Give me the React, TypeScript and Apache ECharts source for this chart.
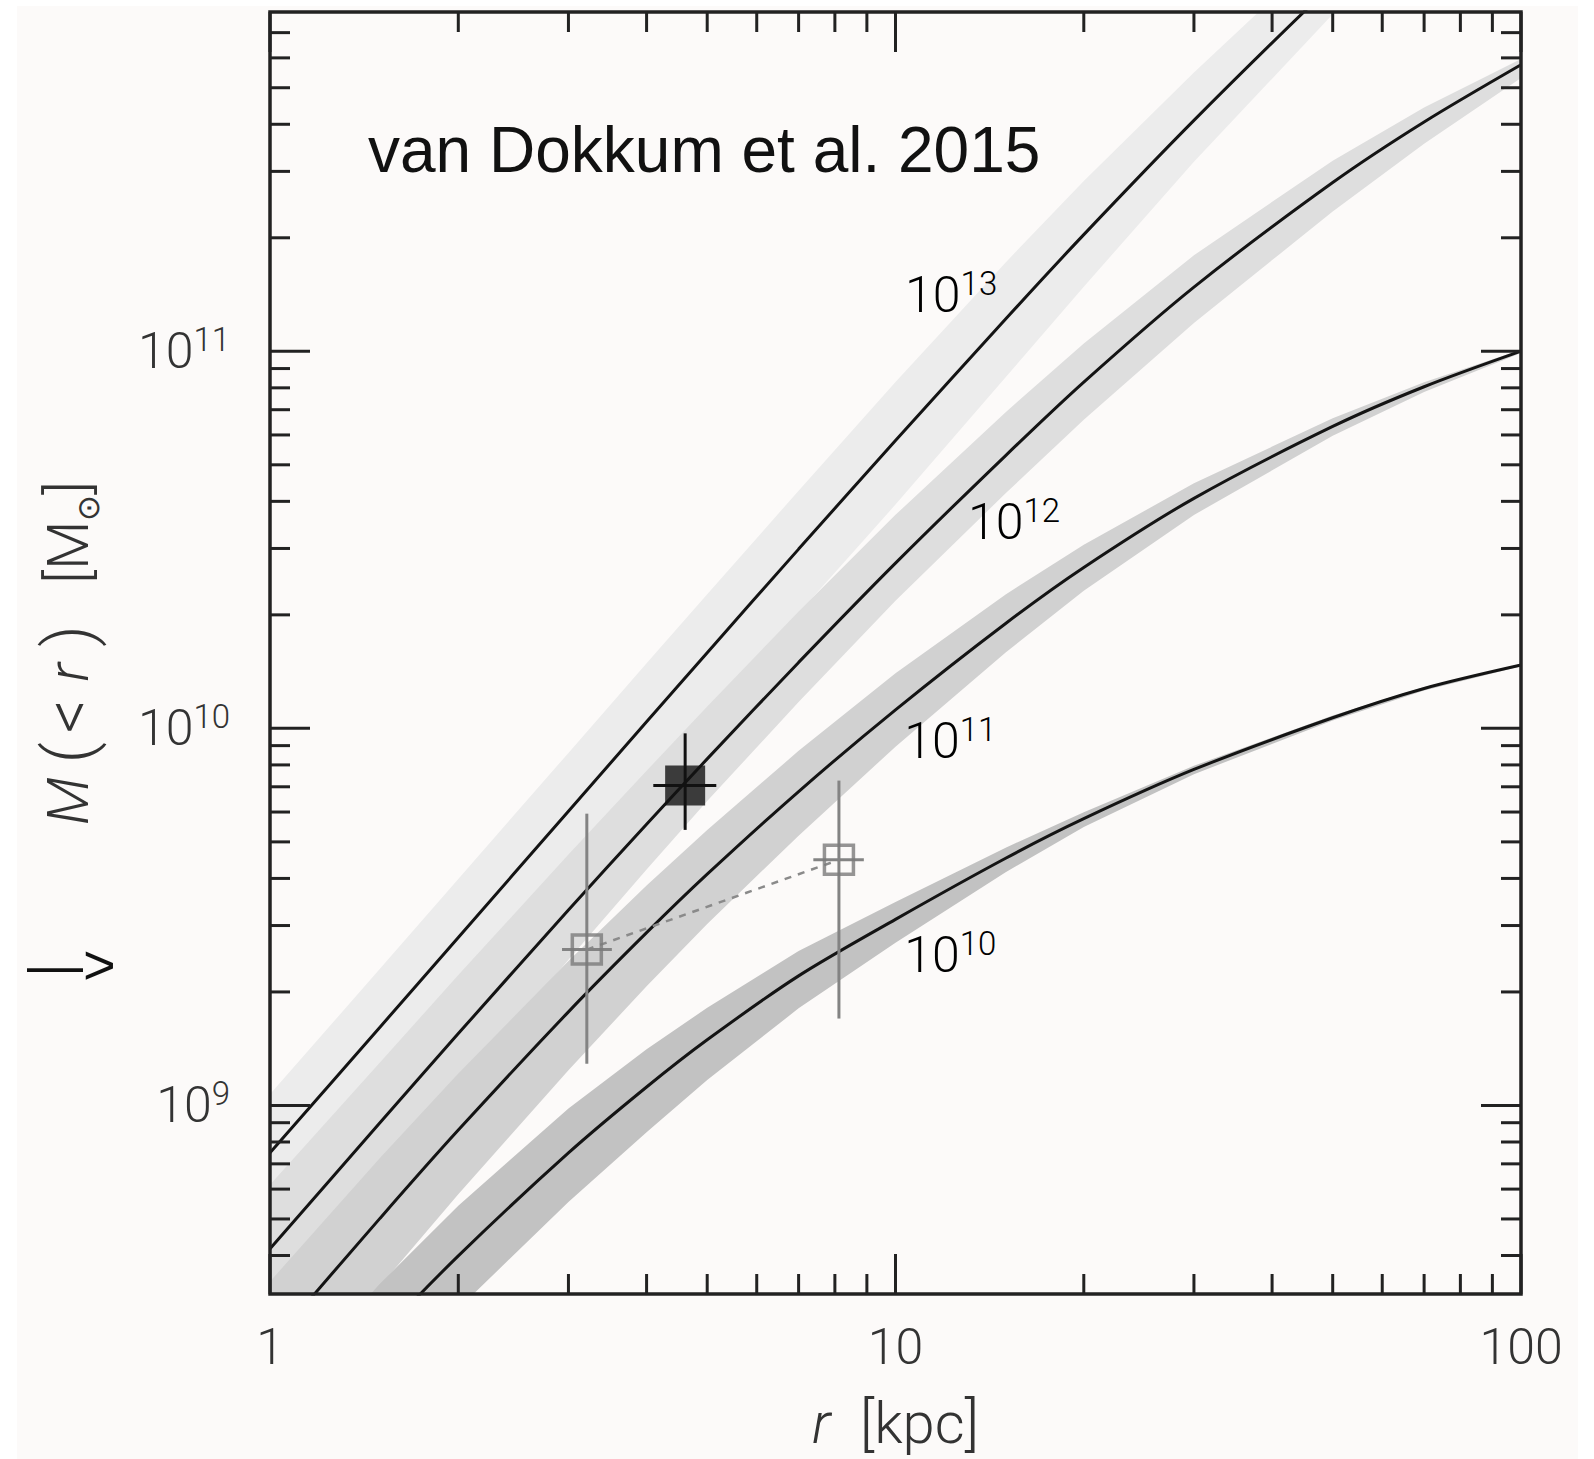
import React, { useEffect, useRef } from 'react';
import * as echarts from 'echarts';

// ---------------- data ----------------
const radii = [1, 1.5, 2, 3, 4, 5, 7, 10, 15, 20, 30, 50, 70, 100];

const halo13 = [7.49e8, 1.615e9, 2.79e9, 6.03e9, 1.041e10, 1.588e10, 2.988e10, 5.8e10, 1.218e11, 2.039e11, 4.096e11, 9.42e11, 1.587e12, 2.69e12];
const halo13Hi = [1.07e9, 2.308e9, 3.986e9, 8.61e9, 1.488e10, 2.268e10, 4.27e10, 8.29e10, 1.721e11, 2.828e11, 5.488e11, 1.213e12, 1.998e12, 3.348e12];
const halo13Lo = [5.064e8, 1.092e9, 1.886e9, 4.075e9, 7.04e9, 1.073e10, 2.02e10, 3.922e10, 8.53e10, 1.484e11, 3.18e11, 7.834e11, 1.351e12, 2.317e12];

const halo12 = [4.169e8, 9.01e8, 1.551e9, 3.298e9, 5.568e9, 8.3e9, 1.496e10, 2.743e10, 5.291e10, 8.286e10, 1.48e11, 2.803e11, 4.057e11, 5.754e11];
const halo12Hi = [6.166e8, 1.302e9, 2.217e9, 4.627e9, 7.72e9, 1.143e10, 2.041e10, 3.684e10, 6.895e10, 1.048e11, 1.799e11, 3.203e11, 4.43e11, 5.957e11];
const halo12Lo = [2.818e8, 6.232e8, 1.098e9, 2.433e9, 4.224e9, 6.415e9, 1.175e10, 2.179e10, 4.203e10, 6.58e10, 1.189e11, 2.348e11, 3.55e11, 5.309e11];

const halo11 = [2.307e8, 5.025e8, 8.603e8, 1.771e9, 2.872e9, 4.104e9, 6.8e9, 1.12e10, 1.898e10, 2.672e10, 4.074e10, 6.32e10, 8.054e10, 1.001e11];
const halo11Hi = [3.412e8, 7.262e8, 1.216e9, 2.416e9, 3.83e9, 5.374e9, 8.718e9, 1.401e10, 2.266e10, 3.068e10, 4.467e10, 6.649e10, 8.279e10, 1.01e11];
const halo11Lo = [1.489e8, 3.32e8, 5.817e8, 1.24e9, 2.071e9, 3.029e9, 5.194e9, 8.94e9, 1.589e10, 2.317e10, 3.681e10, 5.968e10, 7.798e10, 9.897e10];

const halo10 = [1.143e8, 2.44e8, 3.99e8, 7.482e8, 1.119e9, 1.493e9, 2.206e9, 3.115e9, 4.524e9, 5.761e9, 7.78e9, 1.067e10, 1.276e10, 1.472e10];
const halo10Hi = [1.615e8, 3.37e8, 5.42e8, 9.817e8, 1.409e9, 1.816e9, 2.568e9, 3.464e9, 4.826e9, 5.991e9, 7.958e9, 1.082e10, 1.288e10, 1.482e10];
const halo10Lo = [8.09e7, 1.747e8, 2.891e8, 5.546e8, 8.492e8, 1.169e9, 1.809e9, 2.701e9, 4.154e9, 5.476e9, 7.56e9, 1.05e10, 1.261e10, 1.461e10];

// curve labels (halo mass exponent) and their anchor positions
const curveLabelExp = [13, 12, 11, 10];
const curveLabelR = [10.36, 13.06, 10.33, 10.33];
const curveLabelM = [1.41e11, 3.53e10, 9.27e9, 2.51e9];

// measurements
const openR = [3.21, 8.12];
const openM = [2.59e9, 4.48e9];
const openRLo = [2.93, 7.39];
const openRHi = [3.52, 8.9];
const openMLo = [1.29e9, 1.7e9];
const openMHi = [5.94e9, 7.27e9];

const filledR = [4.61];
const filledM = [7.05e9];
const filledRLo = [4.1];
const filledRHi = [5.17];
const filledMLo = [5.38e9];
const filledMHi = [9.7e9];

// axes
const xMin = 1;
const xMax = 100;
const yMin = 3.162e8;
const yMax = 7.94e11;
const xMajorTicks = [1, 10, 100];
const xMinorTicks = [2, 3, 4, 5, 6, 7, 8, 9, 20, 30, 40, 50, 60, 70, 80, 90];
const yMajorTicks = [1e9, 1e10, 1e11];
const yMinorTicks = [
  4e8, 5e8, 6e8, 7e8, 8e8, 9e8,
  2e9, 3e9, 4e9, 5e9, 6e9, 7e9, 8e9, 9e9,
  2e10, 3e10, 4e10, 5e10, 6e10, 7e10, 8e10, 9e10,
  2e11, 3e11, 4e11, 5e11, 6e11, 7e11,
];

const FONT = 'Roboto, "Liberation Sans", Arial, sans-serif';
const LABEL_COLOR = '#333333';

export default function App() {
  const ref = useRef<HTMLDivElement>(null);

  useEffect(() => {
    if (!ref.current) return;
    const chart = echarts.init(ref.current, null, { renderer: 'svg' });

    const labelRich: any = {
      b: { fontSize: 50, fontFamily: FONT, fontWeight: 300, color: LABEL_COLOR, lineHeight: 56 },
      s: { fontSize: 33, fontFamily: FONT, fontWeight: 300, color: LABEL_COLOR, lineHeight: 33, verticalAlign: 'top' },
    };

    const band = (hi: number[], lo: number[], color: string, z: number) => ({
      type: 'custom',
      coordinateSystem: 'cartesian2d',
      clip: true,
      silent: true,
      z,
      encode: { x: 0, y: 1 },
      data: radii.map((r, i) => [r, hi[i]]),
      renderItem: (params: any, api: any) => {
        if (params.dataIndex !== 0) return null;
        const pts: number[][] = [];
        for (let i = 0; i < radii.length; i++) pts.push(api.coord([radii[i], hi[i]]));
        for (let i = radii.length - 1; i >= 0; i--) pts.push(api.coord([radii[i], lo[i]]));
        return { type: 'polygon', shape: { points: pts }, style: { fill: color } };
      },
    });

    const curve = (vals: number[]) => ({
      type: 'line',
      data: radii.map((r, i) => [r, vals[i]]),
      showSymbol: false,
      symbol: 'none',
      smooth: 0.3,
      clip: true,
      silent: true,
      z: 3,
      lineStyle: { color: '#141414', width: 3 },
    });

    const errorBars = (
      rs: number[], ms: number[], rLo: number[], rHi: number[], mLo: number[], mHi: number[],
      color: string, z: number,
    ) => ({
      type: 'custom',
      coordinateSystem: 'cartesian2d',
      silent: true,
      z,
      encode: { x: 0, y: 1 },
      data: rs.map((r, i) => [r, ms[i], rLo[i], rHi[i], mLo[i], mHi[i]]),
      renderItem: (_params: any, api: any) => {
        const l = api.coord([api.value(2), api.value(1)]);
        const rr = api.coord([api.value(3), api.value(1)]);
        const t = api.coord([api.value(0), api.value(5)]);
        const b = api.coord([api.value(0), api.value(4)]);
        const st = { stroke: color, lineWidth: 3 };
        return {
          type: 'group',
          children: [
            { type: 'line', shape: { x1: l[0], y1: l[1], x2: rr[0], y2: rr[1] }, style: st },
            { type: 'line', shape: { x1: t[0], y1: t[1], x2: b[0], y2: b[1] }, style: st },
          ],
        };
      },
    });

    const titleBase = { fontFamily: FONT, fontWeight: 300, color: LABEL_COLOR, lineHeight: 70 };
    const xTitleBase = { fontFamily: FONT, fontWeight: 300, color: LABEL_COLOR, lineHeight: 50 };

    const option: any = {
      animation: false,
      backgroundColor: '#fcfaf9',
      grid: { left: 270, top: 12, width: 1251, height: 1282, show: false, containLabel: false, outerBoundsMode: 'none' },
      xAxis: {
        type: 'log',
        logBase: 10,
        min: xMin,
        max: xMax,
        axisLine: { show: false },
        axisTick: { show: false },
        splitLine: { show: false },
        axisLabel: { margin: 28, color: LABEL_COLOR, fontSize: 50, fontFamily: FONT, fontWeight: 300 },
        name: '{i|r}{p|  [}{n|kpc}{p|]}',
        nameLocation: 'middle',
        nameGap: 104,
        nameTextStyle: {
          ...xTitleBase,
          fontSize: 56,
          rich: {
            i: { ...xTitleBase, fontStyle: 'italic', fontSize: 57 },
            n: { ...xTitleBase, fontSize: 58 },
            p: { ...xTitleBase, fontSize: 60 },
          },
        },
      },
      yAxis: {
        type: 'log',
        logBase: 10,
        min: yMin,
        max: yMax,
        axisLine: { show: false },
        axisTick: { show: false },
        splitLine: { show: false },
        axisLabel: {
          margin: 40,
          showMinLabel: false,
          showMaxLabel: false,
          formatter: (v: number) => {
            const e = Math.log10(v);
            const n = Math.round(e);
            if (Math.abs(e - n) > 1e-6) return '';
            return `{b|10}{s|${n}}`;
          },
          rich: labelRich,
        },
        name: '{i|M} {p|(}{l|<}{r|r}{p|)}   [M{sub|⊙}]',
        nameLocation: 'middle',
        nameRotate: 90,
        nameGap: 167,
        nameTextStyle: {
          ...titleBase,
          fontSize: 57,
          rich: {
            i: { ...titleBase, fontStyle: 'italic', fontSize: 57 },
            r: { ...titleBase, fontStyle: 'italic', fontSize: 57, padding: [0, 16, 0, 18] },
            p: { ...titleBase, fontSize: 66 },
            l: { ...titleBase, fontSize: 66, padding: [0, 0, 0, 9] },
            sub: { fontSize: 31, fontFamily: '"DejaVu Sans", sans-serif', color: LABEL_COLOR, lineHeight: 40, verticalAlign: 'bottom' },
          },
        },
      },
      graphic: [
        { type: 'rect', silent: true, shape: { x: 0, y: 0, width: 17, height: 1459 }, style: { fill: '#ffffff' } },
        { type: 'rect', silent: true, shape: { x: 0, y: 0, width: 1594, height: 6 }, style: { fill: '#ffffff' } },
        { type: 'rect', silent: true, shape: { x: 1578, y: 0, width: 16, height: 1459 }, style: { fill: '#ffffff' } },
        {
          type: 'text', left: 368, top: 118, silent: true,
          style: { text: 'van Dokkum et al. 2015', fontSize: 64, fontFamily: '"Liberation Sans", Arial, sans-serif', fill: '#111111' },
        },
        {
          type: 'text', silent: true, x: 27, y: 964,
          style: { text: '\u2014>', fontSize: 56, fontFamily: '"Liberation Sans", Arial, sans-serif', fill: '#111111', align: 'left', verticalAlign: 'middle' },
        },
      ],
      series: [
        band(halo13Hi, halo13Lo, '#ececec', 1),
        band(halo12Hi, halo12Lo, '#dedede', 1),
        band(halo11Hi, halo11Lo, '#d1d1d1', 1),
        band(halo10Hi, halo10Lo, '#c2c2c2', 1),
        curve(halo13),
        curve(halo12),
        curve(halo11),
        curve(halo10),
        {
          type: 'line',
          data: openR.map((r, i) => [r, openM[i]]),
          symbol: 'none',
          silent: true,
          z: 4,
          lineStyle: { color: '#8a8a8a', width: 2.5, type: [7, 7] },
        },
        errorBars(openR, openM, openRLo, openRHi, openMLo, openMHi, '#838383', 5),
        errorBars(filledR, filledM, filledRLo, filledRHi, filledMLo, filledMHi, '#111111', 5),
        {
          type: 'scatter',
          data: openR.map((r, i) => [r, openM[i]]),
          symbol: 'rect',
          symbolSize: 29,
          silent: true,
          z: 6,
          itemStyle: { color: 'rgba(0,0,0,0)', borderColor: '#7a7a7a', borderWidth: 3.5 },
        },
        {
          type: 'scatter',
          data: filledR.map((r, i) => [r, filledM[i]]),
          symbol: 'rect',
          symbolSize: 40,
          silent: true,
          z: 6,
          itemStyle: { color: '#111111' },
        },
        {
          type: 'custom',
          coordinateSystem: 'cartesian2d',
          silent: true,
          z: 7,
          encode: { x: 0, y: 1 },
          data: curveLabelExp.map((e, i) => [curveLabelR[i], curveLabelM[i], e]),
          renderItem: (_params: any, api: any) => {
            const p = api.coord([api.value(0), api.value(1)]);
            return {
              type: 'text',
              x: p[0],
              y: p[1],
              style: {
                text: `{b|10}{s|${api.value(2)}}`,
                rich: labelRich,
                align: 'left',
                verticalAlign: 'middle',
              },
            };
          },
        },
        {
          type: 'custom',
          coordinateSystem: 'cartesian2d',
          silent: true,
          z: 10,
          encode: { x: 0, y: 1 },
          data: [[xMin, yMin]],
          renderItem: (params: any, api: any) => {
            const cs = params.coordSys;
            const x0 = cs.x, y0 = cs.y, w = cs.width, h = cs.height;
            const children: any[] = [];
            const st = { stroke: '#222222', lineWidth: 3 };
            const seg = (x1: number, y1: number, x2: number, y2: number) =>
              children.push({ type: 'line', shape: { x1, y1, x2, y2 }, style: st });
            xMajorTicks.forEach((v) => {
              const px = api.coord([v, yMin])[0];
              seg(px, y0 + h, px, y0 + h - 40);
              seg(px, y0, px, y0 + 40);
            });
            xMinorTicks.forEach((v) => {
              const px = api.coord([v, yMin])[0];
              seg(px, y0 + h, px, y0 + h - 20);
              seg(px, y0, px, y0 + 20);
            });
            yMajorTicks.forEach((v) => {
              const py = api.coord([xMin, v])[1];
              seg(x0, py, x0 + 40, py);
              seg(x0 + w, py, x0 + w - 40, py);
            });
            yMinorTicks.forEach((v) => {
              const py = api.coord([xMin, v])[1];
              seg(x0, py, x0 + 20, py);
              seg(x0 + w, py, x0 + w - 20, py);
            });
            children.push({
              type: 'rect',
              shape: { x: x0, y: y0, width: w, height: h },
              style: { fill: 'none', stroke: '#222222', lineWidth: 3.5 },
            });
            return { type: 'group', children };
          },
        },
      ],
    };

    chart.setOption(option);
    return () => chart.dispose();
  }, []);

  return (
    <div
      ref={ref}
      style={{ position: 'absolute', left: 0, top: 0, width: 1594, height: 1459, background: '#ffffff' }}
    />
  );
}
